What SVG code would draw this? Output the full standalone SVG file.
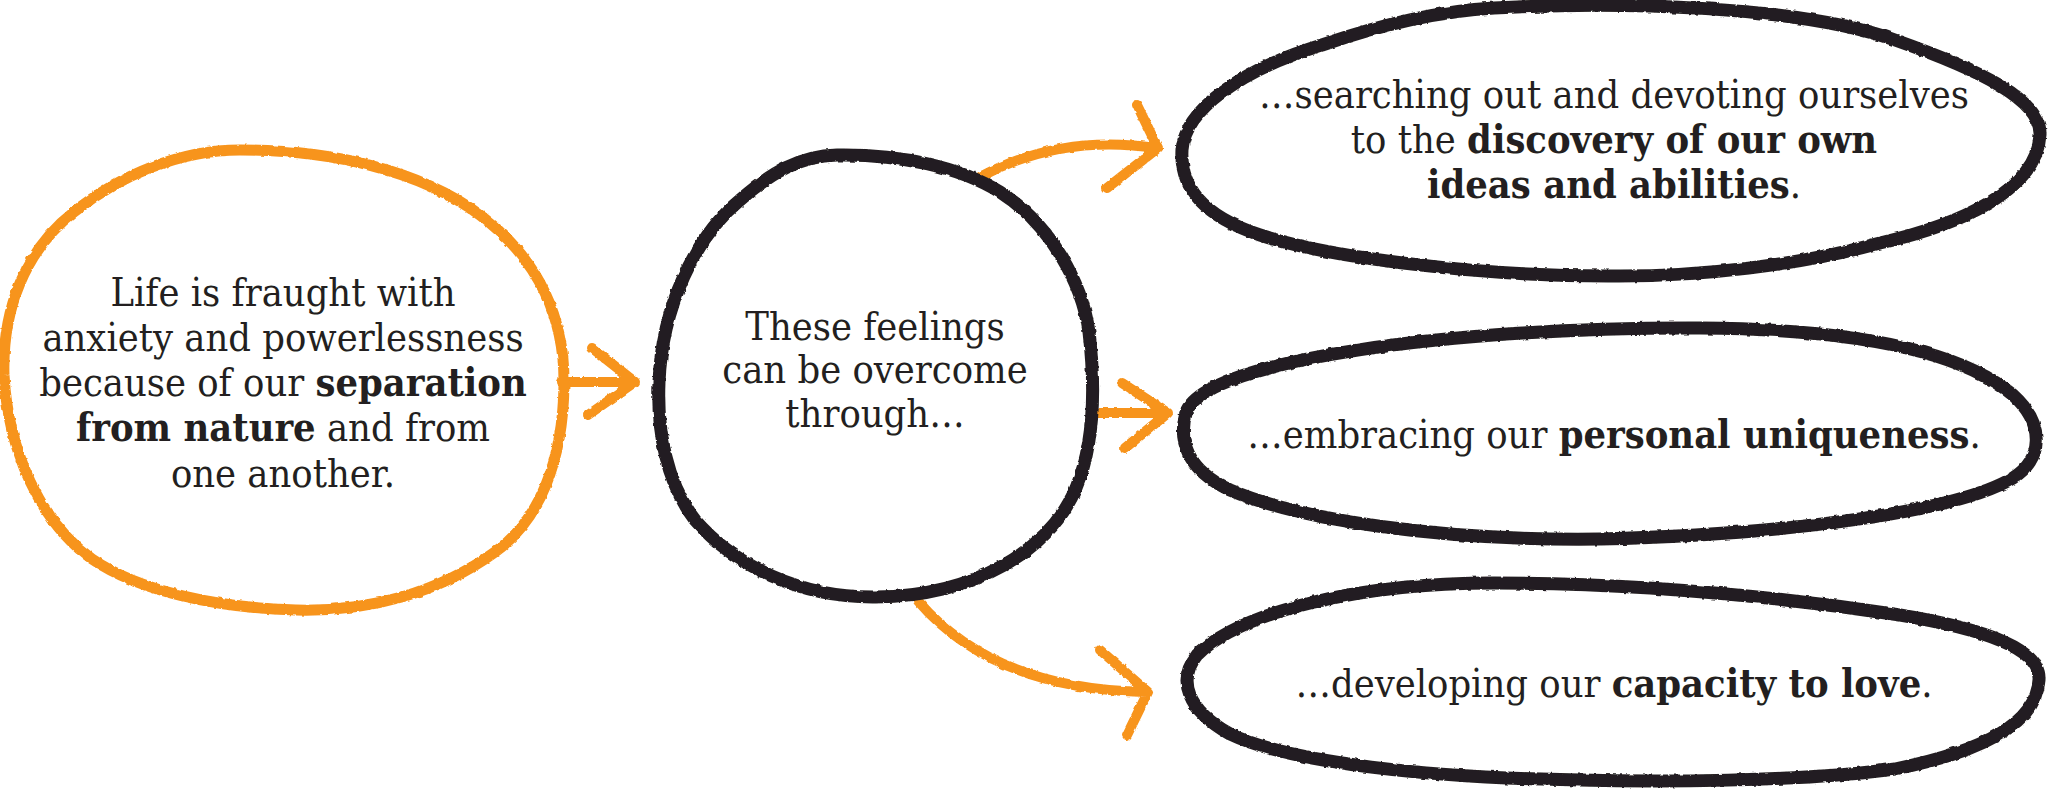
<svg xmlns="http://www.w3.org/2000/svg" width="2048" height="791" viewBox="0 0 2048 791">
<defs>
<filter id="rough" x="-5%" y="-5%" width="110%" height="110%">
<feTurbulence type="fractalNoise" baseFrequency="0.18" numOctaves="2" seed="3" result="n"/>
<feDisplacementMap in="SourceGraphic" in2="n" scale="3" xChannelSelector="R" yChannelSelector="G"/>
</filter>
</defs>
<style>
.ob{fill:none;stroke:#F7941D;stroke-width:11;stroke-linejoin:round}
.bk{fill:none;stroke:#231F20;stroke-width:13;stroke-linejoin:round}
.ar{fill:none;stroke:#F7941D;stroke-width:10;stroke-linecap:round;stroke-linejoin:round}
text{font-family:"DejaVu Serif","Liberation Serif",serif;font-size:39px;fill:#231F20;text-anchor:middle}
.b{font-weight:bold}
</style>
<rect width="2048" height="791" fill="#FFFFFF"/>
<g id="connectors" filter="url(#rough)">
<path class="ar" d="M 562 382 L 633 382 M 592 348 L 635 382 L 588 415"/>
<path class="ar" d="M 980 177 C 1030 150, 1090 138, 1156 148 M 1137 105 L 1158 148 L 1107 188"/>
<path class="ar" d="M 1094 413 L 1165 413 M 1122 383 L 1168 413 L 1125 448"/>
<path class="ar" d="M 918 601 C 960 650, 1030 690, 1146 692 M 1100 650 L 1148 692 L 1127 735"/>
</g>
<g id="node-life">
<path class="ob" filter="url(#rough)" d="M 240 150 C 330 150, 420 170, 480 215 C 540 260, 565 320, 564 385 C 563 460, 540 520, 495 552 C 440 592, 370 612, 296 610 C 220 608, 140 592, 92 559 C 40 522, 8 450, 4 375 C 2 310, 25 250, 74 212 C 120 175, 180 150, 240 150 Z"/>
<g transform="translate(283 0) scale(0.91 1)">
<text x="0" y="306">Life is fraught with</text>
<text x="0" y="351">anxiety and powerlessness</text>
<text x="0" y="396">because of our <tspan class="b">separation</tspan></text>
<text x="0" y="441"><tspan class="b">from nature</tspan> and from</text>
<text x="0" y="487">one another.</text>
</g>
</g>
<g id="node-feelings">
<path class="bk" filter="url(#rough)" d="M 837 155 C 900 154, 960 167, 1000 192 C 1050 224, 1082 282, 1089 332 C 1096 392, 1094 445, 1076 488 C 1050 550, 975 596, 876 597 C 800 598, 735 566, 695 520 C 666 482, 657 430, 659 382 C 662 307, 695 237, 740 200 C 772 172, 800 156, 837 155 Z"/>
<g transform="translate(875 0) scale(0.91 1)">
<text x="0" y="340">These feelings</text>
<text x="0" y="383">can be overcome</text>
<text x="0" y="427">through…</text>
</g>
</g>
<g id="node-discovery">
<path class="bk" filter="url(#rough)" d="M 1494 8 C 1620 1, 1800 6, 1895 40 C 1980 70, 2042 100, 2040 135 C 2037 190, 1960 225, 1880 243 C 1800 265, 1700 277, 1608 276 C 1480 276, 1330 258, 1260 235 C 1200 215, 1180 185, 1182 150 C 1185 110, 1240 70, 1322 45 C 1380 25, 1440 11, 1494 8 Z"/>
<g transform="translate(1614 0) scale(0.91 1)">
<text x="0" y="108">…searching out and devoting ourselves</text>
<text x="0" y="153">to the <tspan class="b">discovery of our own</tspan></text>
<text x="0" y="198"><tspan class="b">ideas and abilities</tspan>.</text>
</g>
</g>
<g id="node-uniqueness">
<path class="bk" filter="url(#rough)" d="M 1700 328 C 1850 329, 1960 350, 2013 395 C 2046 425, 2042 460, 2013 478 C 1960 510, 1800 534, 1600 539 C 1440 541, 1300 520, 1230 490 C 1187 470, 1177 440, 1187 410 C 1212 360, 1450 327, 1700 328 Z"/>
<g transform="translate(1614 0) scale(0.91 1)">
<text x="0" y="448">…embracing our <tspan class="b">personal uniqueness</tspan>.</text>
</g>
</g>
<g id="node-love">
<path class="bk" filter="url(#rough)" d="M 1494 583 C 1650 583, 1800 600, 1900 615 C 1990 630, 2041 650, 2039 680 C 2037 720, 1990 750, 1895 769 C 1800 782, 1650 782, 1580 780 C 1430 778, 1290 763, 1230 734 C 1187 710, 1177 680, 1197 655 C 1242 611, 1360 583, 1494 583 Z"/>
<g transform="translate(1614 0) scale(0.91 1)">
<text x="0" y="697">…developing our <tspan class="b">capacity to love</tspan>.</text>
</g>
</g>
</svg>
